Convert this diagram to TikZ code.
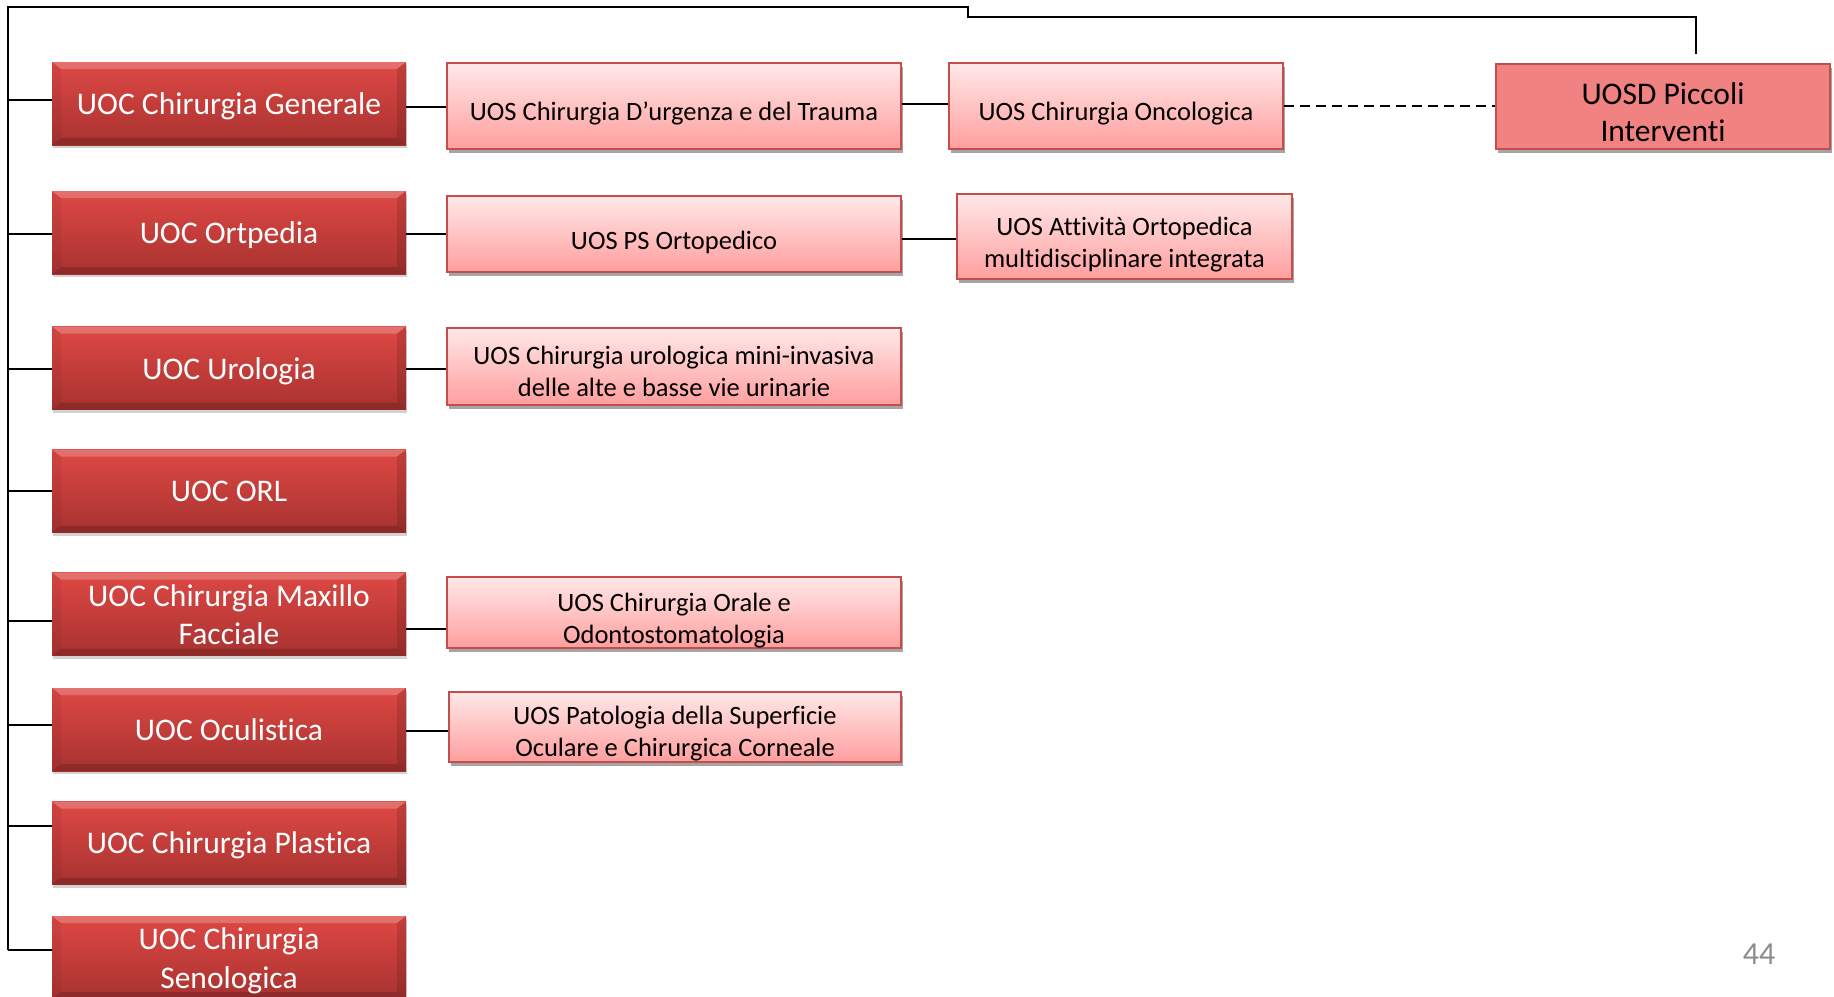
\documentclass[tikz,border=0pt]{standalone}
\usepackage{fontspec}
\setmainfont{Carlito}[Ligatures={NoCommon}]
\usetikzlibrary{shadows}
\definecolor{uoctop}{RGB}{222,72,68}
\definecolor{uocbot}{RGB}{168,50,48}
\definecolor{uostop}{RGB}{255,232,232}
\definecolor{uosbot}{RGB}{255,158,158}
\definecolor{uosline}{RGB}{196,78,76}
\definecolor{uosdfill}{RGB}{240,130,130}
\definecolor{pagegray}{RGB}{140,140,140}
\definecolor{shadowgray}{RGB}{165,165,165}
\newcommand\dnshift[2]{\raisebox{-#1}[\height][\depth]{\begin{tabular}{@{}c@{}}#2\end{tabular}}}
\tikzset{
  uoc/.style={rectangle, minimum width=354pt, minimum height=83pt, inner sep=0pt,
    top color=uoctop, bottom color=uocbot, text=white, align=center,
    font=\fontsize{31.5}{38.5}\selectfont,
    drop shadow={shadow xshift=0.5pt, shadow yshift=-3pt, opacity=0.35},
    path picture={
      \fill[white,opacity=0.22] (path picture bounding box.north west) -- (path picture bounding box.north east)
        -- ([xshift=-9pt,yshift=-7pt]path picture bounding box.north east) -- ([xshift=9pt,yshift=-7pt]path picture bounding box.north west) -- cycle;
      \fill[black,opacity=0.16] (path picture bounding box.south west) -- (path picture bounding box.south east)
        -- ([xshift=-9pt,yshift=7pt]path picture bounding box.south east) -- ([xshift=9pt,yshift=7pt]path picture bounding box.south west) -- cycle;
      \fill[black,opacity=0.05] (path picture bounding box.north west) -- ([xshift=9pt,yshift=-7pt]path picture bounding box.north west)
        -- ([xshift=9pt,yshift=7pt]path picture bounding box.south west) -- (path picture bounding box.south west) -- cycle;
      \fill[black,opacity=0.12] (path picture bounding box.north east) -- ([xshift=-9pt,yshift=-7pt]path picture bounding box.north east)
        -- ([xshift=-9pt,yshift=7pt]path picture bounding box.south east) -- (path picture bounding box.south east) -- cycle;
    }},
  uos/.style={rectangle, inner sep=0pt, draw=uosline, line width=1.5pt,
    top color=uostop, bottom color=uosbot, text=black, align=center,
    font=\fontsize{26.5}{32}\selectfont,
    drop shadow={shadow xshift=2pt, shadow yshift=-4pt, fill=shadowgray, opacity=1}},
  uosd/.style={rectangle, inner sep=0pt, draw=uosline, line width=1.5pt,
    fill=uosdfill, text=black, align=center,
    font=\fontsize{31.5}{37}\selectfont,
    drop shadow={shadow xshift=2pt, shadow yshift=-4pt, fill=shadowgray, opacity=1}},
  link/.style={draw=black, line width=1.8pt},
  dashlink/.style={draw=black, line width=1.8pt, dash pattern=on 10pt off 6pt}
}
\begin{document}
\begin{tikzpicture}[x=1pt,y=-1pt]
\useasboundingbox (0,0) rectangle (1834,996);
\clip (0,0) rectangle (1834,996);
\fill[white] (0,0) rectangle (1834,996);

% UOC column
\node[uoc] (u1) at (229,103.5) {\dnshift{3.5pt}{UOC Chirurgia Generale}};
\node[uoc] (u2) at (229,232.5) {\dnshift{3.5pt}{UOC Ortpedia}};
\node[uoc] (u3) at (229,368) {\dnshift{3.5pt}{UOC Urologia}};
\node[uoc] (u4) at (229,491) {\dnshift{2.5pt}{UOC ORL}};
\node[uoc] (u5) at (229,614) {\dnshift{4pt}{UOC Chirurgia Maxillo\\Facciale}};
\node[uoc] (u6) at (229,729.5) {\dnshift{3.5pt}{UOC Oculistica}};
\node[uoc] (u7) at (229,843) {\dnshift{2.5pt}{UOC Chirurgia Plastica}};
\node[uoc] (u8) at (229,957.5) {\dnshift{4pt}{UOC Chirurgia\\Senologica}};

% UOS column
\node[uos, minimum width=454pt, minimum height=86pt] (s1) at (674,106) {\dnshift{8.5pt}{UOS Chirurgia D’urgenza e del Trauma}};
\node[uos, minimum width=454pt, minimum height=76pt] (s2) at (674,234) {\dnshift{9.5pt}{UOS PS Ortopedico}};
\node[uos, minimum width=454pt, minimum height=77pt] (s3) at (674,366.5) {\dnshift{7.5pt}{UOS Chirurgia urologica mini-invasiva\\delle alte e basse vie urinarie}};
\node[uos, minimum width=454pt, minimum height=71pt] (s5) at (674,612.5) {\dnshift{8.5pt}{UOS Chirurgia Orale e\\Odontostomatologia}};
\node[uos, minimum width=452pt, minimum height=70pt] (s6) at (675,727) {\dnshift{7pt}{UOS Patologia della Superficie\\Oculare e Chirurgica Corneale}};

% third column
\node[uos, minimum width=334pt, minimum height=86pt] (onc) at (1116,106) {\dnshift{8pt}{UOS Chirurgia Oncologica}};
\node[uos, minimum width=335pt, minimum height=85pt] (att) at (1124.5,236.5) {\dnshift{9pt}{UOS Attività Ortopedica\\multidisciplinare integrata}};
\node[uosd, minimum width=334pt, minimum height=85pt] (pic) at (1663,106.5) {\dnshift{9.5pt}{UOSD Piccoli\\Interventi}};

% spine and top line
\coordinate (top) at (8,7);
\coordinate (bot) at (8,950);
\coordinate (stepa) at (968,7);
\coordinate (stepb) at (968,17);
\coordinate (stepc) at (1696,17);
\coordinate (picend) at (1696,54);
\draw[link] (bot) -- (top) -- (stepa) -- (stepb) -- (stepc) -- (picend);

% spine branches
\draw[link] ([yshift=3.5pt]u1.west) -- ++(-44,0);
\draw[link] ([yshift=-1.5pt]u2.west) -- ++(-44,0);
\draw[link] ([yshift=-1pt]u3.west) -- ++(-44,0);
\draw[link] (u4.west) -- ++(-44,0);
\draw[link] ([yshift=-7pt]u5.west) -- ++(-44,0);
\draw[link] ([yshift=4.5pt]u6.west) -- ++(-44,0);
\draw[link] ([yshift=17pt]u7.west) -- ++(-44,0);
\draw[link] ([yshift=7.5pt]u8.west) -- ++(-44,0);

% UOC -> UOS
\draw[link] ([yshift=-1pt]s1.west) -- ([yshift=-1pt]s1.west -| u1.east);
\draw[link] (s2.west) -- (s2.west -| u2.east);
\draw[link] ([yshift=-1pt]u3.east) -- ([yshift=-1pt]u3.east -| s3.west);
\draw[link] ([yshift=-15pt]u5.east) -- ([yshift=-15pt]u5.east -| s5.west);
\draw[link] ([yshift=-1.5pt]u6.east) -- ([yshift=-1.5pt]u6.east -| s6.west);

% UOS -> third column
\draw[link] ([yshift=2pt]s1.east) -- ([yshift=2pt]s1.east -| onc.west);
\draw[link] ([yshift=-2.5pt]att.west) -- ([yshift=-2.5pt]att.west -| s2.east);
\draw[dashlink] (onc.east) -- (onc.east -| pic.west);

% page number
\node[text=pagegray, font=\fontsize{32}{38}\selectfont] (pg) at (1759,954) {44};
\end{tikzpicture}
\end{document}
